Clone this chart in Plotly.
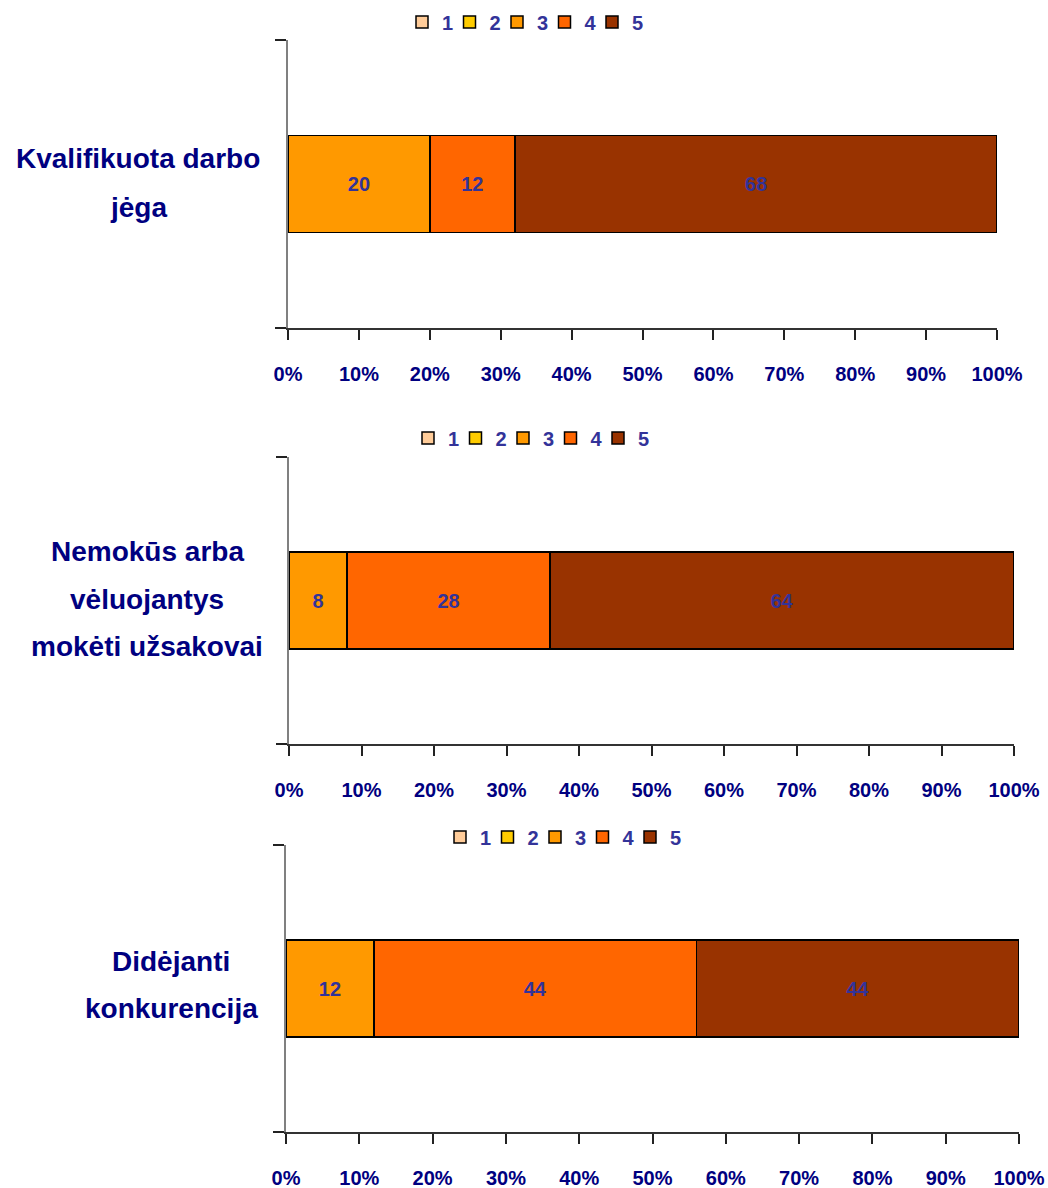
import plotly.graph_objects as go

categories = ["Kvalifikuota darbo<br>jėga",
              "Nemokūs arba<br>vėluojantys<br>mokėti užsakovai",
              "Didėjanti<br>konkurencija"]
series_names = ["1", "2", "3", "4", "5"]
# values per panel for series 1..5
panel_values = [
    [0, 0, 20, 12, 68],
    [0, 0, 8, 28, 64],
    [0, 0, 12, 44, 44],
]
colors = ["#FFCC99", "#FFCC00", "#FF9900", "#FF6600", "#993300"]
tick_vals = [0, 10, 20, 30, 40, 50, 60, 70, 80, 90, 100]
tick_text = [f"{v}%" for v in tick_vals]

W, H = 1048, 1188
FONT = "Liberation Sans Narrow, Arial Narrow, Liberation Sans, Arial"
NAVY = "#000080"
LABEL = "#333399"

# pixel layout: (x0, x1, ytop, ybottom, first_legend_symbol_x, legend_y,
#                label_center_x, label_center_y, label_line_spacing)
panels = [
    (288, 997, 40, 328, 422, 22, 138, 183, 49),
    (289, 1014, 457, 744, 428, 438, 147, 599, 47.5),
    (286, 1019, 845, 1132, 460, 837, 171, 985, 47),
]

def px(x):
    return x / W

def py(y):
    return 1 - y / H

fig = go.Figure()
layout = dict(
    template="none",
    width=W, height=H, margin=dict(l=0, r=0, t=0, b=0, autoexpand=False),
    paper_bgcolor="white", plot_bgcolor="white",
    barmode="stack", showlegend=True,
    font=dict(family=FONT, color=NAVY),
    annotations=[],
)

for i, (vals, cat) in enumerate(zip(panel_values, categories)):
    x0, x1, yt, yb, lsx, ly, lcx, lyc, lsp = panels[i]
    sfx = "" if i == 0 else str(i + 1)
    leg = "legend" if i == 0 else f"legend{i+1}"
    total = sum(vals)
    for name, v, c in zip(series_names, vals, colors):
        fig.add_trace(go.Bar(
            x=[v / total * 100], y=[0], orientation="h", name=name,
            marker=dict(color=c, line=dict(color="black", width=1.5)),
            width=0.337, cliponaxis=False,
            text=[str(v) if v else ""], textposition="inside",
            insidetextanchor="middle", textangle=0,
            textfont=dict(family=FONT, size=20, color=LABEL, weight="bold"),
            xaxis="x" + sfx, yaxis="y" + sfx, legend=leg,
            hoverinfo="skip",
        ))
    # invisible spacer entry so the last legend label is not clipped
    fig.add_trace(go.Bar(
        x=[0], y=[0], orientation="h", name=" ",
        marker=dict(color="rgba(0,0,0,0)", line=dict(width=0)),
        xaxis="x" + sfx, yaxis="y" + sfx, legend=leg, hoverinfo="skip",
    ))
    layout["xaxis" + sfx] = dict(
        domain=[px(x0), px(x1)], anchor="y" + sfx, range=[0, 100],
        automargin=False,
        tickmode="array", tickvals=tick_vals, ticktext=tick_text,
        ticks="outside", ticklen=10, tickwidth=1.5, tickcolor="#222222",
        ticklabelstandoff=17,
        showline=True, linecolor="#333333", linewidth=1.5,
        showgrid=False, zeroline=False,
        tickfont=dict(family=FONT, size=20, color=NAVY, weight="bold"),
    )
    layout["yaxis" + sfx] = dict(
        domain=[py(yb), py(yt)], anchor="x" + sfx, range=[-0.5, 0.5],
        automargin=False,
        tickmode="array", tickvals=[-0.5, 0.5], ticktext=["", ""],
        ticks="outside", ticklen=11, tickwidth=1.5, tickcolor="#222222",
        showline=True, linecolor="#808080", linewidth=1.5,
        showgrid=False, zeroline=False, fixedrange=True,
    )
    layout[leg] = dict(
        orientation="h", x=px(lsx - 20), xanchor="left", y=py(ly), yanchor="middle",
        traceorder="normal",
        font=dict(family=FONT, size=20, color=LABEL, weight="bold"),
        entrywidth=2.5, entrywidthmode="pixels", itemwidth=30,
        bgcolor="rgba(0,0,0,0)", borderwidth=0,
    )
    lines = cat.split("<br>")
    n = len(lines)
    for k, line in enumerate(lines):
        yc = lyc + (k - (n - 1) / 2) * lsp
        layout["annotations"].append(dict(
            xref="paper", yref="paper", x=px(lcx), y=py(yc),
            xanchor="center", yanchor="middle", align="center", showarrow=False,
            text=line,
            font=dict(family=FONT, size=28, color=NAVY, weight="bold"),
        ))

fig.update_layout(**layout)
fig.write_html(
    "out.html",
    config={"displayModeBar": False},
    post_script="document.body.style.margin='0';"
                "document.documentElement.style.overflow='hidden';"
                "document.body.style.overflow='hidden';",
)
